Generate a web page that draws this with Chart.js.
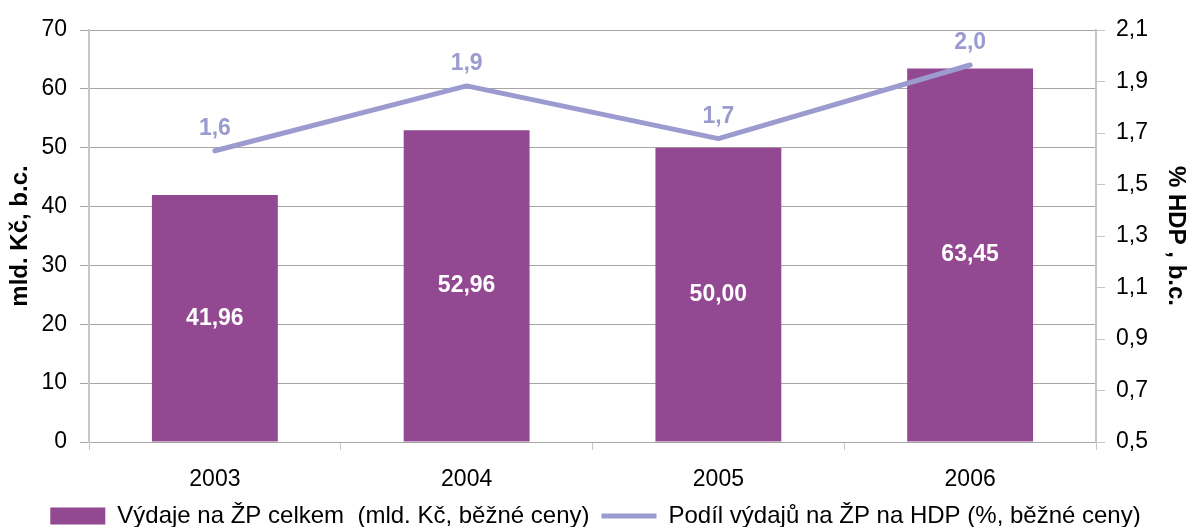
<!DOCTYPE html>
<html>
<head>
<meta charset="utf-8">
<script src="https://cdn.jsdelivr.net/npm/chart.js@4.4.1/dist/chart.umd.min.js"></script>
<style>
	html, body { margin: 0; padding: 0; background: #fff; }
	#chart { display: block; }
</style>
</head>
<body>
<canvas id="chart" width="1191" height="527"></canvas>
<script>
// Data
const years = ["2003", "2004", "2005", "2006"];
const spending = [41.96, 52.96, 50.0, 63.45]; // mld. Kč, běžné ceny
const shareOfGdp = [1.631, 1.883, 1.678, 1.964]; // %, běžné ceny

const barLabel = "Výdaje na ŽP celkem  (mld. Kč, běžné ceny)";
const lineLabel = "Podíl výdajů na ŽP na HDP (%, běžné ceny)";

const barColor = "#924992";
const lineColor = "#9C9BD0";
const gridColor = "#A6A6A6";
const axisColor = "#C6C6C6";
const fontFamily = "'Liberation Sans', Arial, sans-serif";

function czech(v, digits) {
	return v.toFixed(digits).replace(".", ",");
}

// Draw values inside the bars and above the line points
const valueLabels = {
	id: "valueLabels",
	afterDatasetsDraw(chart) {
		const ctx = chart.ctx;
		ctx.save();
		ctx.textAlign = "center";
		ctx.textBaseline = "middle";
		ctx.font = "bold 23px " + fontFamily;

		const barMeta = chart.getDatasetMeta(0);
		barMeta.data.forEach((el, i) => {
			ctx.fillStyle = "#ffffff";
			ctx.fillText(czech(spending[i], 2), el.x, (el.y + el.base) / 2);
		});

		const lineMeta = chart.getDatasetMeta(1);
		lineMeta.data.forEach((el, i) => {
			ctx.fillStyle = lineColor;
			ctx.fillText(czech(shareOfGdp[i], 1), el.x, el.y - 22);
		});
		ctx.restore();
	},
};

const ctx = document.getElementById("chart").getContext("2d");
const chart = new Chart(ctx, {
	type: "bar",
	data: {
		labels: years,
		datasets: [
			{
				label: barLabel,
				data: spending,
				yAxisID: "y",
				backgroundColor: barColor,
				categoryPercentage: 1,
				barPercentage: 0.5,
				order: 1,
			},
			{
				type: "line",
				label: lineLabel,
				data: shareOfGdp,
				yAxisID: "y1",
				borderColor: lineColor,
				backgroundColor: lineColor,
				borderWidth: 5,
				borderCapStyle: "round",
				borderJoinStyle: "round",
				pointRadius: 0,
				tension: 0,
				order: 0,
			},
		],
	},
	options: {
		responsive: false,
		animation: false,
		devicePixelRatio: 1,
		layout: {
			padding: { top: 30, left: 0, right: 0, bottom: -11 },
		},
		scales: {
			x: {
				offset: true,
				grid: {
					display: true,
					offset: true,
					drawOnChartArea: false,
					drawTicks: true,
					tickLength: 8,
					color: axisColor,
				},
				border: { color: gridColor },
				ticks: {
					color: "#000",
					font: { family: fontFamily, size: 23 },
					padding: 16,
				},
				afterFit(scale) {
					scale.height = 50;
				},
			},
			y: {
				position: "left",
				min: 0,
				max: 70,
				ticks: {
					stepSize: 10,
					color: "#000",
					font: { family: fontFamily, size: 23 },
					padding: 13,
				},
				grid: {
					color: gridColor,
					tickLength: 9,
				},
				border: { color: axisColor, width: 2 },
				title: {
					display: true,
					text: "mld. Kč, b.c.",
					color: "#000",
					font: { family: fontFamily, size: 24, weight: "bold" },
					padding: { top: 6, bottom: 0 },
				},
				afterFit(scale) {
					scale.width = 89;
				},
			},
			y1: {
				position: "right",
				min: 0.5,
				max: 2.1,
				ticks: {
					stepSize: 0.2,
					color: "#000",
					font: { family: fontFamily, size: 23 },
					padding: 11,
					callback: (v) => czech(v, 1),
				},
				grid: {
					drawOnChartArea: false,
					color: axisColor,
					tickLength: 9,
				},
				border: { color: axisColor, width: 2 },
				title: {
					display: true,
					text: "% HDP , b.c.",
					color: "#000",
					font: { family: fontFamily, size: 24, weight: "bold" },
					padding: { top: 1, bottom: 0 },
				},
				afterFit(scale) {
					scale.width = 95;
				},
			},
		},
		plugins: {
			legend: {
				position: "bottom",
				labels: {
					color: "#000",
					font: { family: fontFamily, size: 24 },
					usePointStyle: true,
					pointStyleWidth: 55,
					boxHeight: 17,
					padding: 12,
					generateLabels(chart) {
						return chart.data.datasets.map((ds, i) => ({
							text: ds.label,
							fillStyle: ds.type === "line" ? ds.borderColor : ds.backgroundColor,
							strokeStyle: ds.type === "line" ? ds.borderColor : ds.backgroundColor,
							lineWidth: ds.type === "line" ? 5 : 0,
							pointStyle: ds.type === "line" ? "line" : "rect",
							fontColor: "#000",
							datasetIndex: i,
							hidden: false,
						}));
					},
				},
			},
			tooltip: { enabled: false },
		},
	},
	plugins: [valueLabels],
});
</script>
</body>
</html>
